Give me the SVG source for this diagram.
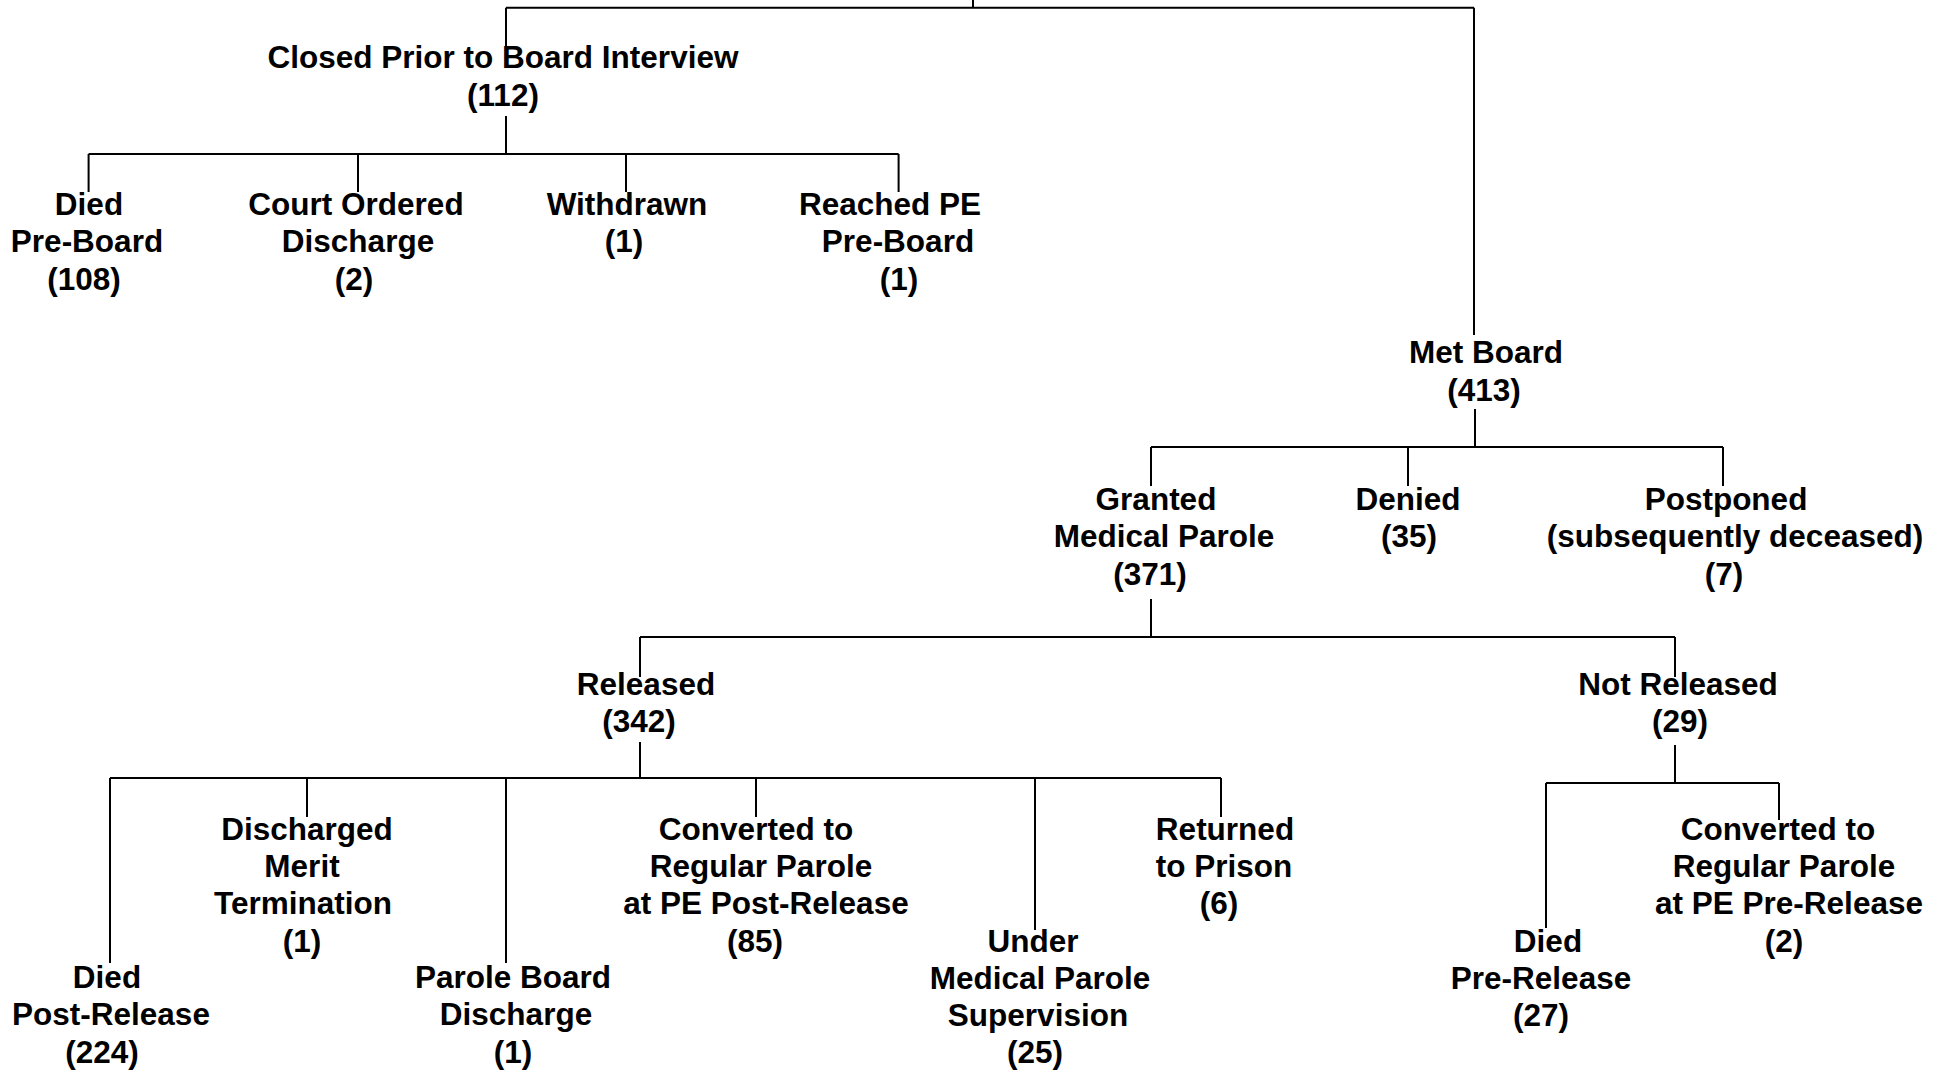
<svg xmlns="http://www.w3.org/2000/svg" width="1950" height="1071" viewBox="0 0 1950 1071">
<style>
text{font-family:"Liberation Sans",Arial,sans-serif;font-weight:bold;font-size:31.5px;fill:#000;text-anchor:middle}
.c{fill:none;stroke:#000;stroke-width:2}
</style>
<rect width="1950" height="1071" fill="#fff"/>
<g id="connectors">
<path class="c" d="M973,0V7.7M506,7.7H1474M506,7.7V47M1474,7.7V335"/>
<path class="c" d="M506,116V154M88.6,154H898.6M88.6,154V192M358,154V192M626,154V192M898.6,154V192"/>
<path class="c" d="M1475,409V447M1151,447H1723M1151,447V486M1408,447V486M1723,447V486"/>
<path class="c" d="M1151,599V637M640,637H1675M640,637V677M1675,637V677"/>
<path class="c" d="M640,742V778M110,778H1221M110,778V963M307,778V817M506,778V963M756,778V817M1035,778V930M1221,778V817"/>
<path class="c" d="M1675,745V783M1546,783H1779M1546,783V928M1779,783V820"/>
</g>
<g id="closed"><text x="503" y="68">Closed Prior to Board Interview</text><text x="503" y="106">(112)</text></g>
<g id="died-pre-board"><text x="89" y="215">Died</text><text x="87" y="252">Pre-Board</text><text x="84" y="290">(108)</text></g>
<g id="court-ordered"><text x="356" y="215">Court Ordered</text><text x="358" y="252">Discharge</text><text x="354" y="290">(2)</text></g>
<g id="withdrawn"><text x="627" y="215">Withdrawn</text><text x="624" y="252">(1)</text></g>
<g id="reached-pe"><text x="890" y="215">Reached PE</text><text x="898" y="252">Pre-Board</text><text x="899" y="290">(1)</text></g>
<g id="met-board"><text x="1486" y="363">Met Board</text><text x="1484" y="401">(413)</text></g>
<g id="granted"><text x="1156" y="510">Granted</text><text x="1164" y="547">Medical Parole</text><text x="1150" y="585">(371)</text></g>
<g id="denied"><text x="1408" y="510">Denied</text><text x="1409" y="547">(35)</text></g>
<g id="postponed"><text x="1726" y="510">Postponed</text><text x="1735" y="547">(subsequently deceased)</text><text x="1724" y="585">(7)</text></g>
<g id="released"><text x="646" y="695">Released</text><text x="639" y="732">(342)</text></g>
<g id="not-released"><text x="1678" y="695">Not Released</text><text x="1680" y="732">(29)</text></g>
<g id="died-post-release"><text x="107" y="988">Died</text><text x="111" y="1025">Post-Release</text><text x="102" y="1063">(224)</text></g>
<g id="discharged-merit"><text x="307" y="840">Discharged</text><text x="302" y="877">Merit</text><text x="303" y="914">Termination</text><text x="302" y="952">(1)</text></g>
<g id="parole-board-discharge"><text x="513" y="988">Parole Board</text><text x="516" y="1025">Discharge</text><text x="513" y="1063">(1)</text></g>
<g id="converted-post"><text x="756" y="840">Converted to</text><text x="761" y="877">Regular Parole</text><text x="766" y="914">at PE Post-Release</text><text x="755" y="952">(85)</text></g>
<g id="under-supervision"><text x="1033" y="952">Under</text><text x="1040" y="989">Medical Parole</text><text x="1038" y="1026">Supervision</text><text x="1035" y="1063">(25)</text></g>
<g id="returned"><text x="1225" y="840">Returned</text><text x="1224" y="877">to Prison</text><text x="1219" y="914">(6)</text></g>
<g id="died-pre-release"><text x="1548" y="952">Died</text><text x="1541" y="989">Pre-Release</text><text x="1541" y="1026">(27)</text></g>
<g id="converted-pre"><text x="1778" y="840">Converted to</text><text x="1784" y="877">Regular Parole</text><text x="1789" y="914">at PE Pre-Release</text><text x="1784" y="952">(2)</text></g>
</svg>
